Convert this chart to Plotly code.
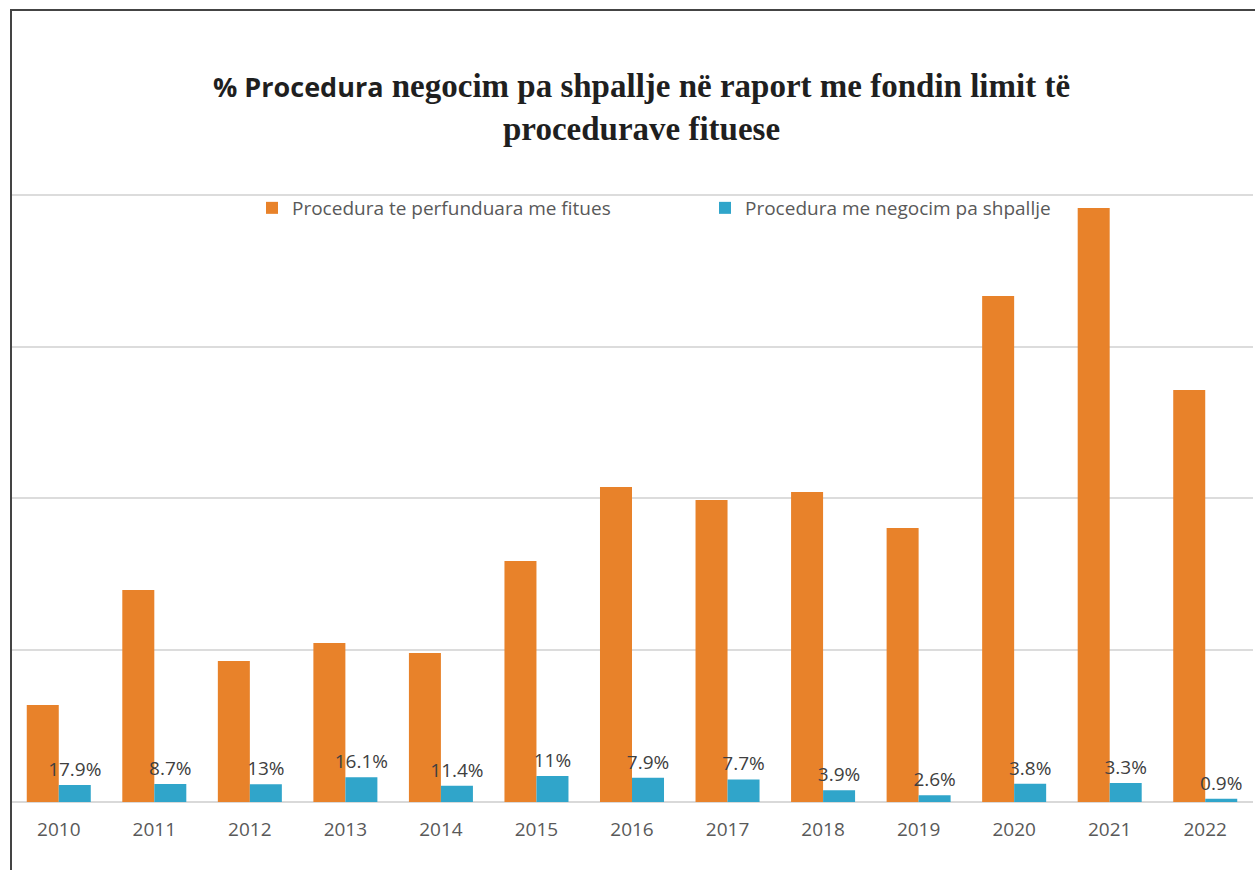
import plotly.graph_objects as go

years = ["2010", "2011", "2012", "2013", "2014", "2015", "2016",
         "2017", "2018", "2019", "2020", "2021", "2022"]
perfunduara = [0.639, 1.397, 0.929, 1.047, 0.982, 1.588, 2.075,
               1.989, 2.042, 1.805, 3.333, 3.913, 2.714]
negocim = [0.112, 0.119, 0.117, 0.163, 0.107, 0.171, 0.160,
           0.149, 0.077, 0.044, 0.120, 0.125, 0.022]
pct_labels = ["17.9%", "8.7%", "13%", "16.1%", "11.4%", "11%", "7.9%",
              "7.7%", "3.9%", "2.6%", "3.8%", "3.3%", "0.9%"]

name_a = "Procedura te perfunduara me fitues"
name_b = "Procedura me negocim pa shpallje"

W, H = 1255, 870
ML, MR, MT, MB = 11, 2, 43, 68
PW, PH = W - ML - MR, H - MT - MB

def px_x(p):
    return (p - ML) / PW

def px_y(p):
    return (H - MB - p) / PH

fig = go.Figure()
fig.add_trace(go.Bar(
    x=years, y=perfunduara, name=name_a,
    marker=dict(color="#E8822A", line=dict(width=0)),
))
fig.add_trace(go.Bar(
    x=years, y=negocim, name=name_b,
    marker=dict(color="#30A5CA", line=dict(width=0)),
    text=pct_labels, textposition="outside", constraintext="none",
    cliponaxis=False,
    textfont=dict(family="Open Sans", size=19, color="#404040"),
))

title_txt = ("<b><span style=\"font-family:'Open Sans';font-size:27px\">% Procedura</span>"
             " negocim pa shpallje në raport me fondin limit të<br>procedurave fituese</b>")

fig.update_layout(
    width=W, height=H,
    margin=dict(l=ML, r=MR, t=MT, b=MB, pad=0),
    paper_bgcolor="white", plot_bgcolor="white",
    barmode="group", bargap=0.33, bargroupgap=0,
    showlegend=True,
    legend=dict(
        orientation="h", x=px_x(252), xanchor="left",
        y=px_y(208), yanchor="middle",
        font=dict(family="Open Sans", size=19, color="#595959"),
        entrywidth=408, entrywidthmode="pixels",
        bgcolor="rgba(0,0,0,0)", traceorder="normal",
    ),
    xaxis=dict(
        showgrid=False, showline=False, ticks="",
        tickfont=dict(family="Open Sans", size=19, color="#595959"),
        ticklabelstandoff=14,
    ),
    yaxis=dict(
        range=[0, 5], dtick=1, showticklabels=False, ticks="",
        showgrid=True, gridcolor="#DCDCDC", gridwidth=2,
        zeroline=True, zerolinecolor="#D9D9D9", zerolinewidth=2,
        showline=False,
    ),
    annotations=[dict(
        text=title_txt, xref="paper", yref="paper",
        x=px_x(641), y=px_y(107), xanchor="center", yanchor="middle",
        showarrow=False,
        font=dict(family="Liberation Serif", size=33, color="#1F1F1F"),
        align="center",
    )],
    shapes=[
        dict(type="line", xref="paper", yref="paper",
             x0=px_x(11), x1=px_x(11), y0=px_y(9), y1=px_y(870),
             line=dict(color="#444444", width=2)),
        dict(type="line", xref="paper", yref="paper",
             x0=px_x(11), x1=px_x(1255), y0=px_y(10), y1=px_y(10),
             line=dict(color="#444444", width=2)),
    ],
)

fig.write_html("out.html", config={"displayModeBar": False},
               post_script="document.body.style.margin='0';")
